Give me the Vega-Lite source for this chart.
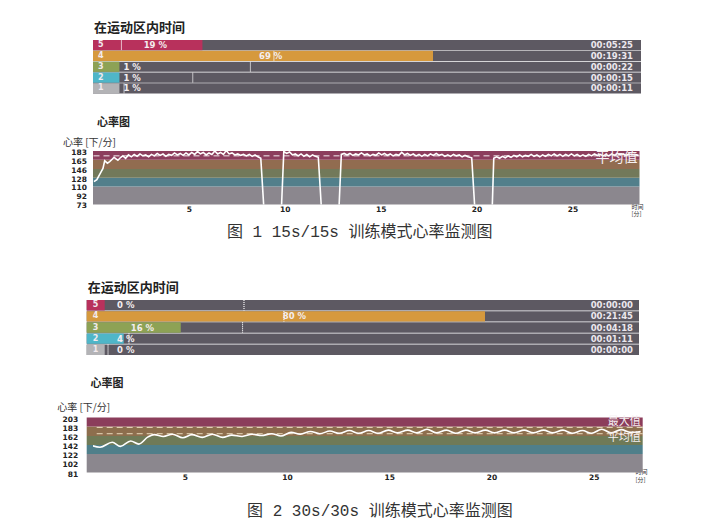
{
  "$schema": "https://vega.github.io/schema/vega-lite/v6.json",
  "background": "white",
  "padding": {"left": 56, "top": 21, "right": 5, "bottom": 5},
  "spacing": 42,
  "resolve": {"scale": {"color": "independent"}},
  "config": {"view": {"stroke": null}},
  "datasets": {
    "zones1": [
      {"zone": "5", "pct": 19, "plabel": "19 %", "mk": 1.43, "time": "00:05:25"},
      {"zone": "4", "pct": 69, "plabel": "69 %", "mk": 34.5, "time": "00:19:31"},
      {"zone": "3", "pct": 1, "plabel": "1 %", "mk": 29.4, "time": "00:00:22"},
      {"zone": "2", "pct": 1, "plabel": "1 %", "mk": 16.9, "time": "00:00:15"},
      {"zone": "1", "pct": 1, "plabel": "1 %", "mk": 2.0, "time": "00:00:11"}
    ],
    "zones2": [
      {"zone": "5", "pct": 0, "plabel": "0 %", "mk": 29.3, "time": "00:00:00"},
      {"zone": "4", "pct": 80, "plabel": "80 %", "mk": 37.7, "time": "00:21:45"},
      {"zone": "3", "pct": 16, "plabel": "16 %", "mk": 29.0, "time": "00:04:18"},
      {"zone": "2", "pct": 4, "plabel": "4 %", "mk": 5.1, "time": "00:01:11"},
      {"zone": "1", "pct": 0, "plabel": "0 %", "mk": 0.7, "time": "00:00:00"}
    ],
    "bands1": [
      {"band": "1", "lo": 73, "hi": 110},
      {"band": "2", "lo": 110, "hi": 128},
      {"band": "3", "lo": 128, "hi": 146},
      {"band": "4", "lo": 146, "hi": 165},
      {"band": "5", "lo": 165, "hi": 183}
    ],
    "bands2": [
      {"band": "1", "lo": 81, "hi": 122},
      {"band": "2", "lo": 122, "hi": 142},
      {"band": "3", "lo": 142, "hi": 162},
      {"band": "4", "lo": 162, "hi": 183},
      {"band": "5", "lo": 183, "hi": 203}
    ],
    "ref1": [{"name": "平均值", "v": 173}],
    "ref2": [{"name": "最大值", "v": 181}, {"name": "平均值", "v": 167}],
    "hr1": [
      {"t": 0.05, "hr": 120}, {"t": 0.2, "hr": 124}, {"t": 0.35, "hr": 135}, {"t": 0.52, "hr": 147}, {"t": 0.61, "hr": 163},
      {"t": 0.75, "hr": 158}, {"t": 0.87, "hr": 161}, {"t": 1.0, "hr": 166}, {"t": 1.1, "hr": 170}, {"t": 1.2, "hr": 167},
      {"t": 1.3, "hr": 164}, {"t": 1.45, "hr": 170}, {"t": 1.56, "hr": 173}, {"t": 1.7, "hr": 168}, {"t": 1.85, "hr": 175},
      {"t": 2.0, "hr": 171}, {"t": 2.15, "hr": 176}, {"t": 2.3, "hr": 172}, {"t": 2.45, "hr": 177}, {"t": 2.6, "hr": 173},
      {"t": 2.75, "hr": 175}, {"t": 2.9, "hr": 171}, {"t": 3.05, "hr": 176}, {"t": 3.2, "hr": 173}, {"t": 3.35, "hr": 178},
      {"t": 3.5, "hr": 174}, {"t": 3.65, "hr": 177}, {"t": 3.8, "hr": 172}, {"t": 3.95, "hr": 176}, {"t": 4.1, "hr": 174},
      {"t": 4.25, "hr": 179}, {"t": 4.4, "hr": 175}, {"t": 4.55, "hr": 178}, {"t": 4.7, "hr": 174}, {"t": 4.85, "hr": 179},
      {"t": 5.0, "hr": 175}, {"t": 5.15, "hr": 180}, {"t": 5.3, "hr": 176}, {"t": 5.45, "hr": 182}, {"t": 5.6, "hr": 177},
      {"t": 5.75, "hr": 180}, {"t": 5.9, "hr": 175}, {"t": 6.05, "hr": 179}, {"t": 6.2, "hr": 176}, {"t": 6.35, "hr": 183},
      {"t": 6.5, "hr": 177}, {"t": 6.65, "hr": 180}, {"t": 6.8, "hr": 176}, {"t": 6.95, "hr": 184}, {"t": 7.1, "hr": 177},
      {"t": 7.25, "hr": 179}, {"t": 7.4, "hr": 175}, {"t": 7.55, "hr": 177}, {"t": 7.7, "hr": 174}, {"t": 7.85, "hr": 176},
      {"t": 8.0, "hr": 173}, {"t": 8.15, "hr": 176}, {"t": 8.3, "hr": 172}, {"t": 8.45, "hr": 175}, {"t": 8.6, "hr": 171},
      {"t": 8.75, "hr": 168}, {"t": 8.95, "hr": 40}, {"t": 9.8, "hr": 40}, {"t": 9.95, "hr": 182}, {"t": 10.1, "hr": 178},
      {"t": 10.25, "hr": 181}, {"t": 10.4, "hr": 175}, {"t": 10.55, "hr": 177}, {"t": 10.7, "hr": 173}, {"t": 10.85, "hr": 177},
      {"t": 11.0, "hr": 172}, {"t": 11.15, "hr": 176}, {"t": 11.3, "hr": 171}, {"t": 11.45, "hr": 175}, {"t": 11.6, "hr": 172},
      {"t": 11.75, "hr": 170}, {"t": 11.95, "hr": 40}, {"t": 12.8, "hr": 40}, {"t": 12.95, "hr": 176}, {"t": 13.1, "hr": 178},
      {"t": 13.25, "hr": 175}, {"t": 13.4, "hr": 178}, {"t": 13.55, "hr": 174}, {"t": 13.7, "hr": 177}, {"t": 13.85, "hr": 175},
      {"t": 14.0, "hr": 179}, {"t": 14.15, "hr": 175}, {"t": 14.3, "hr": 177}, {"t": 14.45, "hr": 173}, {"t": 14.6, "hr": 176},
      {"t": 14.75, "hr": 174}, {"t": 14.9, "hr": 179}, {"t": 15.05, "hr": 175}, {"t": 15.2, "hr": 178}, {"t": 15.35, "hr": 174},
      {"t": 15.5, "hr": 177}, {"t": 15.65, "hr": 173}, {"t": 15.8, "hr": 176}, {"t": 15.95, "hr": 174}, {"t": 16.1, "hr": 180},
      {"t": 16.25, "hr": 175}, {"t": 16.4, "hr": 178}, {"t": 16.55, "hr": 174}, {"t": 16.7, "hr": 177}, {"t": 16.85, "hr": 173},
      {"t": 17.0, "hr": 176}, {"t": 17.15, "hr": 172}, {"t": 17.3, "hr": 176}, {"t": 17.45, "hr": 173}, {"t": 17.6, "hr": 177},
      {"t": 17.75, "hr": 174}, {"t": 17.9, "hr": 178}, {"t": 18.05, "hr": 174}, {"t": 18.2, "hr": 176}, {"t": 18.35, "hr": 172},
      {"t": 18.5, "hr": 175}, {"t": 18.65, "hr": 172}, {"t": 18.8, "hr": 176}, {"t": 18.95, "hr": 173}, {"t": 19.1, "hr": 175},
      {"t": 19.25, "hr": 171}, {"t": 19.4, "hr": 174}, {"t": 19.55, "hr": 171}, {"t": 19.75, "hr": 169}, {"t": 19.95, "hr": 40},
      {"t": 20.8, "hr": 40}, {"t": 20.9, "hr": 168}, {"t": 21.05, "hr": 171}, {"t": 21.2, "hr": 168}, {"t": 21.35, "hr": 172},
      {"t": 21.5, "hr": 169}, {"t": 21.65, "hr": 173}, {"t": 21.8, "hr": 170}, {"t": 21.95, "hr": 174}, {"t": 22.1, "hr": 171},
      {"t": 22.25, "hr": 175}, {"t": 22.4, "hr": 171}, {"t": 22.55, "hr": 174}, {"t": 22.7, "hr": 172}, {"t": 22.85, "hr": 176},
      {"t": 23.0, "hr": 172}, {"t": 23.15, "hr": 175}, {"t": 23.3, "hr": 171}, {"t": 23.45, "hr": 175}, {"t": 23.6, "hr": 172},
      {"t": 23.75, "hr": 176}, {"t": 23.9, "hr": 173}, {"t": 24.05, "hr": 177}, {"t": 24.2, "hr": 173}, {"t": 24.35, "hr": 176},
      {"t": 24.5, "hr": 172}, {"t": 24.65, "hr": 176}, {"t": 24.8, "hr": 173}, {"t": 24.95, "hr": 177}, {"t": 25.1, "hr": 173},
      {"t": 25.25, "hr": 176}, {"t": 25.4, "hr": 172}, {"t": 25.55, "hr": 175}, {"t": 25.7, "hr": 172}, {"t": 25.85, "hr": 176},
      {"t": 26.0, "hr": 173}, {"t": 26.15, "hr": 177}, {"t": 26.3, "hr": 174}, {"t": 26.45, "hr": 176}, {"t": 26.6, "hr": 173},
      {"t": 26.75, "hr": 176}, {"t": 26.9, "hr": 173}, {"t": 27.05, "hr": 177}, {"t": 27.2, "hr": 174}, {"t": 27.35, "hr": 178},
      {"t": 27.5, "hr": 175}, {"t": 27.65, "hr": 177}, {"t": 27.8, "hr": 174}, {"t": 27.95, "hr": 177}, {"t": 28.1, "hr": 175},
      {"t": 28.25, "hr": 176}, {"t": 28.45, "hr": 174}
    ],
    "hr2": [
      {"t": 0.2, "hr": 146}, {"t": 0.45, "hr": 141}, {"t": 0.85, "hr": 137}, {"t": 1.45, "hr": 148}, {"t": 1.85, "hr": 139},
      {"t": 2.35, "hr": 151}, {"t": 2.75, "hr": 144}, {"t": 3.2, "hr": 160}, {"t": 3.5, "hr": 165}, {"t": 3.95, "hr": 161},
      {"t": 4.4, "hr": 166}, {"t": 4.9, "hr": 158}, {"t": 5.35, "hr": 165}, {"t": 5.85, "hr": 159}, {"t": 6.35, "hr": 166},
      {"t": 6.85, "hr": 159}, {"t": 7.3, "hr": 164}, {"t": 7.8, "hr": 161}, {"t": 8.3, "hr": 166}, {"t": 8.75, "hr": 163},
      {"t": 9.25, "hr": 167}, {"t": 9.7, "hr": 162}, {"t": 10.2, "hr": 170}, {"t": 10.65, "hr": 166}, {"t": 11.15, "hr": 172},
      {"t": 11.6, "hr": 167}, {"t": 12.1, "hr": 173}, {"t": 12.55, "hr": 168}, {"t": 13.05, "hr": 174}, {"t": 13.5, "hr": 168},
      {"t": 14.0, "hr": 174}, {"t": 14.45, "hr": 168}, {"t": 14.95, "hr": 175}, {"t": 15.4, "hr": 169}, {"t": 15.9, "hr": 175},
      {"t": 16.35, "hr": 169}, {"t": 16.85, "hr": 177}, {"t": 17.3, "hr": 169}, {"t": 17.8, "hr": 175}, {"t": 18.25, "hr": 168},
      {"t": 18.75, "hr": 175}, {"t": 19.2, "hr": 169}, {"t": 19.7, "hr": 175}, {"t": 20.15, "hr": 169}, {"t": 20.65, "hr": 175},
      {"t": 21.1, "hr": 169}, {"t": 21.6, "hr": 175}, {"t": 22.05, "hr": 169}, {"t": 22.55, "hr": 175}, {"t": 23.0, "hr": 169},
      {"t": 23.5, "hr": 175}, {"t": 23.95, "hr": 168}, {"t": 24.45, "hr": 174}, {"t": 24.9, "hr": 168}, {"t": 25.4, "hr": 177},
      {"t": 25.85, "hr": 169}, {"t": 26.35, "hr": 176}, {"t": 26.8, "hr": 170}, {"t": 27.3, "hr": 172}
    ]
  },
  "vconcat": [
    {
      "spacing": 23,
      "resolve": {"scale": {"color": "independent"}},
      "title": {"text": "图 1  15s/15s 训练模式心率监测图", "orient": "bottom", "anchor": "middle", "offset": 7, "dx": 7, "fontSize": 16, "font": "Liberation Mono, Noto Sans CJK SC", "fontWeight": "normal", "color": "#333"},
      "vconcat": [
        {
          "width": 548, "height": 53.5,
          "title": {"text": "在运动区内时间", "anchor": "start", "frame": "group", "dx": 1, "offset": 5, "fontSize": 13, "fontWeight": "bold", "font": "Noto Sans CJK SC", "color": "#222"},
          "data": {"name": "zones1"},
          "resolve": {"scale": {"x": "independent"}},
          "encoding": {"y": {"field": "zone", "type": "nominal", "scale": {"domain": ["5", "4", "3", "2", "1"], "paddingInner": 0.06, "paddingOuter": 0}, "axis": null}},
          "layer": [
            {"mark": {"type": "bar", "color": "#5d5962"}, "encoding": {"x": {"datum": -4.73, "type": "quantitative", "scale": {"domain": [-4.73, 114.1], "nice": false, "zero": false}, "axis": null}, "x2": {"datum": 114.1}}},
            {"mark": {"type": "bar"}, "encoding": {"x": {"field": "pct", "type": "quantitative", "scale": {"domain": [-4.73, 114.1], "nice": false, "zero": false}, "axis": null}, "x2": {"datum": -4.73}, "color": {"field": "zone", "type": "nominal", "scale": {"domain": ["1", "2", "3", "4", "5"], "range": ["#b3b3b6", "#4fb6c8", "#8da255", "#d6993d", "#b8315c"]}, "legend": null}}},
            {"mark": {"type": "tick", "orient": "vertical", "thickness": 0.001, "size": 10, "filled": false, "color": "#ffffff", "strokeDash": [1, 1], "strokeWidth": 0.8, "opacity": 0.9}, "encoding": {"x": {"field": "mk", "type": "quantitative", "scale": {"domain": [-4.73, 114.1], "nice": false, "zero": false}, "axis": null}}},
            {"mark": {"type": "text", "align": "left", "dx": 5, "font": "DejaVu Sans", "fontWeight": "bold", "fontSize": 8, "color": "#f2eaee"}, "encoding": {"x": {"datum": -4.73, "type": "quantitative", "scale": {"domain": [-4.73, 114.1], "nice": false, "zero": false}, "axis": null}, "text": {"field": "zone"}}},
            {"transform": [{"filter": "datum.pct >= 10"}], "mark": {"type": "text", "align": "left", "font": "DejaVu Sans", "fontWeight": "bold", "fontSize": 8.5, "color": "#f4eef0"}, "encoding": {"x": {"field": "pct", "type": "quantitative", "scale": {"domain": [-2.99, 234.7], "nice": false, "zero": false}, "axis": null}, "text": {"field": "plabel"}}},
            {"transform": [{"filter": "datum.pct < 10"}], "mark": {"type": "text", "align": "left", "font": "DejaVu Sans", "fontWeight": "bold", "fontSize": 8.5, "color": "#f4eef0"}, "encoding": {"x": {"datum": 1.86, "type": "quantitative", "scale": {"domain": [-4.73, 114.1], "nice": false, "zero": false}, "axis": null}, "text": {"field": "plabel"}}},
            {"mark": {"type": "text", "align": "right", "dx": -8, "font": "DejaVu Sans", "fontWeight": "bold", "fontSize": 8.5, "color": "#ece8ee"}, "encoding": {"x": {"datum": 114.1, "type": "quantitative", "scale": {"domain": [-4.73, 114.1], "nice": false, "zero": false}, "axis": null}, "text": {"field": "time"}}}
          ]
        },
        {
          "width": 546.5, "height": 53.4,
          "title": {"text": "心率图", "anchor": "start", "frame": "group", "dx": 4, "offset": 9, "fontSize": 11, "fontWeight": "bold", "font": "Noto Sans CJK SC", "color": "#222"},
          "layer": [
            {
              "data": {"name": "bands1"},
              "mark": {"type": "bar"},
              "encoding": {
                "x": {"datum": 0, "type": "quantitative", "scale": {"domain": [0, 28.5], "nice": false, "zero": false},
                  "axis": {"values": [5, 10, 15, 20, 25], "tickCount": 20, "title": ["时间", "[分]"], "titleX": 538, "titleY": -1, "titleAlign": "left", "titleBaseline": "top", "titleFontSize": 6, "titleLineHeight": 7.5, "titleFont": "Noto Sans CJK SC", "titleFontWeight": "normal", "titleColor": "#333", "labelFont": "DejaVu Sans", "labelFontWeight": "bold", "labelFontSize": 7.5, "labelPadding": 1, "labelColor": "#222", "labelOverlap": false, "ticks": false, "domain": false, "grid": false}},
                "x2": {"datum": 28.5},
                "y": {"field": "lo", "type": "quantitative", "scale": {"domain": [73, 183], "nice": false, "zero": false},
                  "axis": {"values": [73, 92, 110, 128, 146, 165, 183], "tickCount": 20, "title": "心率 [下/分]", "titleAngle": 0, "titleAlign": "left", "titleBaseline": "middle", "titleX": -30.5, "titleY": -9, "titleFontSize": 10, "titleFontWeight": "normal", "titleFont": "Noto Sans CJK SC", "titleColor": "#333", "labelFont": "DejaVu Sans", "labelFontWeight": "bold", "labelFontSize": 7.5, "labelColor": "#222", "labelPadding": 6.5, "labelOffset": 1.5, "labelOverlap": false, "ticks": false, "domain": false, "grid": false}},
                "y2": {"field": "hi"},
                "color": {"field": "band", "type": "nominal", "scale": {"domain": ["1", "2", "3", "4", "5"], "range": ["#8b878e", "#527f8b", "#72795a", "#916c50", "#8c3e5d"]}, "legend": null}
              }
            },
            {"data": {"name": "ref1"}, "mark": {"type": "rule", "color": "#ffffff", "strokeDash": [6, 4], "strokeWidth": 1, "opacity": 0.9}, "encoding": {"y": {"field": "v", "type": "quantitative"}}},
            {"data": {"name": "hr1"}, "mark": {"type": "line", "color": "#ffffff", "strokeWidth": 1.6, "clip": true}, "encoding": {"x": {"field": "t", "type": "quantitative"}, "y": {"field": "hr", "type": "quantitative"}}},
            {"data": {"name": "ref1"}, "mark": {"type": "text", "align": "right", "baseline": "middle", "dx": -2, "dy": 2.5, "font": "Noto Sans CJK SC", "fontSize": 14, "color": "#f6f0f2"}, "encoding": {"x": {"datum": 28.5, "type": "quantitative"}, "y": {"field": "v", "type": "quantitative"}, "text": {"field": "name"}}}
          ]
        }
      ]
    },
    {
      "spacing": 21.5,
      "resolve": {"scale": {"color": "independent"}},
      "title": {"text": "图 2  30s/30s 训练模式心率监测图", "orient": "bottom", "anchor": "middle", "offset": 21, "dx": 27, "fontSize": 16, "font": "Liberation Mono, Noto Sans CJK SC", "fontWeight": "normal", "color": "#333"},
      "vconcat": [
        {
          "width": 546, "height": 55,
          "title": {"text": "在运动区内时间", "anchor": "start", "frame": "group", "dx": -5.3, "offset": 4.5, "fontSize": 13, "fontWeight": "bold", "font": "Noto Sans CJK SC", "color": "#222"},
          "data": {"name": "zones2"},
          "resolve": {"scale": {"x": "independent"}},
          "encoding": {"y": {"field": "zone", "type": "nominal", "scale": {"domain": ["5", "4", "3", "2", "1"], "paddingInner": 0.06, "paddingOuter": 0}, "axis": null}},
          "layer": [
            {"mark": {"type": "bar", "color": "#5d5962"}, "encoding": {"x": {"datum": -3.79, "type": "quantitative", "scale": {"domain": [-3.79, 112.4], "range": [-6.3, 546], "nice": false, "zero": false}, "axis": null}, "x2": {"datum": 112.4}}},
            {"mark": {"type": "bar"}, "encoding": {"x": {"field": "pct", "type": "quantitative", "scale": {"domain": [-3.79, 112.4], "range": [-6.3, 546], "nice": false, "zero": false}, "axis": null}, "x2": {"datum": -3.79}, "color": {"field": "zone", "type": "nominal", "scale": {"domain": ["1", "2", "3", "4", "5"], "range": ["#b3b3b6", "#4fb6c8", "#8da255", "#d6993d", "#b8315c"]}, "legend": null}}},
            {"mark": {"type": "tick", "orient": "vertical", "thickness": 0.001, "size": 10.5, "filled": false, "color": "#ffffff", "strokeDash": [1, 1], "strokeWidth": 0.8, "opacity": 0.9}, "encoding": {"x": {"field": "mk", "type": "quantitative", "scale": {"domain": [-3.79, 112.4], "range": [-6.3, 546], "nice": false, "zero": false}, "axis": null}}},
            {"mark": {"type": "text", "align": "left", "dx": 6, "font": "DejaVu Sans", "fontWeight": "bold", "fontSize": 8, "color": "#f2eaee"}, "encoding": {"x": {"datum": -3.79, "type": "quantitative", "scale": {"domain": [-3.79, 112.4], "range": [-6.3, 546], "nice": false, "zero": false}, "axis": null}, "text": {"field": "zone"}}},
            {"transform": [{"filter": "datum.pct >= 10"}], "mark": {"type": "text", "align": "left", "font": "DejaVu Sans", "fontWeight": "bold", "fontSize": 8.5, "color": "#f4eef0"}, "encoding": {"x": {"field": "pct", "type": "quantitative", "scale": {"domain": [-2.53, 230], "range": [-6.3, 546], "nice": false, "zero": false}, "axis": null}, "text": {"field": "plabel"}}},
            {"transform": [{"filter": "datum.pct < 10"}], "mark": {"type": "text", "align": "left", "font": "DejaVu Sans", "fontWeight": "bold", "fontSize": 8.5, "color": "#f4eef0"}, "encoding": {"x": {"datum": 2.6, "type": "quantitative", "scale": {"domain": [-3.79, 112.4], "range": [-6.3, 546], "nice": false, "zero": false}, "axis": null}, "text": {"field": "plabel"}}},
            {"mark": {"type": "text", "align": "right", "dx": -6, "font": "DejaVu Sans", "fontWeight": "bold", "fontSize": 8.5, "color": "#ece8ee"}, "encoding": {"x": {"datum": 112.4, "type": "quantitative", "scale": {"domain": [-3.79, 112.4], "range": [-6.3, 546], "nice": false, "zero": false}, "axis": null}, "text": {"field": "time"}}}
          ]
        },
        {
          "width": 549.7, "height": 55,
          "title": {"text": "心率图", "anchor": "start", "frame": "group", "dx": -2.5, "offset": 13, "fontSize": 11, "fontWeight": "bold", "font": "Noto Sans CJK SC", "color": "#222"},
          "layer": [
            {
              "data": {"name": "bands2"},
              "mark": {"type": "bar"},
              "encoding": {
                "x": {"datum": 0.2, "type": "quantitative", "scale": {"domain": [0.2, 27.4], "range": [-6.3, 549.7], "nice": false, "zero": false},
                  "axis": {"values": [5, 10, 15, 20, 25], "tickCount": 20, "title": ["时间", "[分]"], "titleX": 542, "titleY": -4, "titleAlign": "left", "titleBaseline": "top", "titleFontSize": 6, "titleLineHeight": 7.5, "titleFont": "Noto Sans CJK SC", "titleFontWeight": "normal", "titleColor": "#333", "labelFont": "DejaVu Sans", "labelFontWeight": "bold", "labelFontSize": 7.5, "labelPadding": 1, "labelColor": "#222", "labelOverlap": false, "ticks": false, "domain": false, "grid": false}},
                "x2": {"datum": 27.4},
                "y": {"field": "lo", "type": "quantitative", "scale": {"domain": [81, 203], "nice": false, "zero": false},
                  "axis": {"values": [81, 102, 122, 142, 162, 183, 203], "tickCount": 20, "offset": 6.3, "title": "心率 [下/分]", "titleAngle": 0, "titleAlign": "left", "titleBaseline": "middle", "titleX": -30, "titleY": -10.5, "titleFontSize": 10, "titleFontWeight": "normal", "titleFont": "Noto Sans CJK SC", "titleColor": "#333", "labelFont": "DejaVu Sans", "labelFontWeight": "bold", "labelFontSize": 7.5, "labelColor": "#222", "labelPadding": 9, "labelOffset": 1.5, "labelOverlap": false, "ticks": false, "domain": false, "grid": false}},
                "y2": {"field": "hi"},
                "color": {"field": "band", "type": "nominal", "scale": {"domain": ["1", "2", "3", "4", "5"], "range": ["#8b878e", "#4f7f8a", "#6f7a57", "#8d6e4d", "#8b3d5b"]}, "legend": null}
              }
            },
            {"data": {"name": "ref2"}, "mark": {"type": "rule", "color": "#f3e6c8", "strokeDash": [6, 4], "strokeWidth": 1, "opacity": 0.9}, "encoding": {"y": {"field": "v", "type": "quantitative"}}},
            {"data": {"name": "hr2"}, "mark": {"type": "line", "color": "#ffffff", "strokeWidth": 1.6, "interpolate": "monotone", "clip": true}, "encoding": {"x": {"field": "t", "type": "quantitative"}, "y": {"field": "hr", "type": "quantitative"}}},
            {"data": {"name": "ref2"}, "transform": [{"filter": "datum.name == '最大值'"}], "mark": {"type": "text", "align": "right", "baseline": "middle", "dx": -2, "dy": -5, "font": "Noto Sans CJK SC", "fontSize": 11, "color": "#f6f0f2"}, "encoding": {"x": {"datum": 27.4, "type": "quantitative"}, "y": {"field": "v", "type": "quantitative"}, "text": {"field": "name"}}},
            {"data": {"name": "ref2"}, "transform": [{"filter": "datum.name == '平均值'"}], "mark": {"type": "text", "align": "right", "baseline": "middle", "dx": -2, "dy": 4.5, "font": "Noto Sans CJK SC", "fontSize": 11, "color": "#f6f0f2"}, "encoding": {"x": {"datum": 27.4, "type": "quantitative"}, "y": {"field": "v", "type": "quantitative"}, "text": {"field": "name"}}}
          ]
        }
      ]
    }
  ]
}
